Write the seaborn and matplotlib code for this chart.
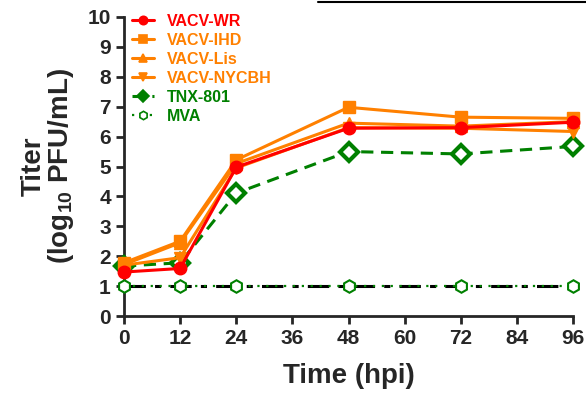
import matplotlib
matplotlib.use("Agg")
import matplotlib.pyplot as plt
from matplotlib.lines import Line2D
import seaborn as sns
import pandas as pd

hpi = [0, 12, 24, 48, 72, 96]
vacv_wr = [1.47, 1.59, 4.98, 6.28, 6.30, 6.48]
vacv_ihd = [1.78, 2.50, 5.22, 6.98, 6.65, 6.61]
vacv_lis = [1.72, 2.45, 5.10, 6.45, 6.35, 6.50]
vacv_nycbh = [1.70, 1.95, 4.95, 6.30, 6.28, 6.17]
tnx_801 = [1.67, 1.78, 4.11, 5.50, 5.42, 5.67]
mva = [1.0, 1.0, 1.0, 1.0, 1.0, 1.0]
lod = 1.0
x_ticks = [0, 12, 24, 36, 48, 60, 72, 84, 96]
y_ticks = list(range(0, 11))

sns.set_style("ticks")
plt.rcParams['font.family'] = ['Liberation Sans', 'DejaVu Sans']
plt.rcParams['font.weight'] = 'bold'
plt.rcParams['mathtext.fontset'] = 'custom'
plt.rcParams['mathtext.rm'] = 'Liberation Sans:bold'
plt.rcParams['mathtext.bf'] = 'Liberation Sans:bold'
plt.rcParams['mathtext.it'] = 'Liberation Sans:bold'

fig = plt.figure(figsize=(5.86, 4.03), dpi=100)
ax = fig.add_axes([124/586, 87/403, 449/586, 299/403])

red = "#FF0000"
orange = "#FF8000"
green = "#008000"

# limit of detection line
ax.plot([x_ticks[0], x_ticks[-1]], [lod, lod], color="black", lw=2.2,
        linestyle=(0, (7, 3, 2, 3)), zorder=2, clip_on=False)

series = [
    ("MVA", mva, green, "h", (0, (1, 3)), "white", 1.6, 3),
    ("TNX-801", tnx_801, green, "D", (0, (4, 2.5)), "white", 2.2, 4),
    ("VACV-NYCBH", vacv_nycbh, orange, "v", "-", orange, 2.2, 5),
    ("VACV-Lis", vacv_lis, orange, "^", "-", orange, 2.2, 6),
    ("VACV-IHD", vacv_ihd, orange, "s", "-", orange, 2.2, 7),
    ("VACV-WR", vacv_wr, red, "o", "-", red, 2.2, 8),
]

edge_w = {"MVA": 1.5, "TNX-801": 3.0}
handles = {}
for name, vals, col, mk, ls, fc, lw, z in series:
    df = pd.DataFrame({"hpi": hpi, "titer": vals})
    sns.lineplot(data=df, x="hpi", y="titer", ax=ax, color=col, lw=lw,
                 linestyle=ls, marker=mk, markersize=9 if mk != "D" else 9,
                 markerfacecolor=fc, markeredgecolor=col,
                 markeredgewidth=edge_w.get(name, 1.0),
                 zorder=z, clip_on=False)
    handles[name] = Line2D([], [], color=col, lw=lw, linestyle=ls, marker=mk,
                           markersize=6, markerfacecolor=(col if name == "TNX-801" else fc),
                           markeredgecolor=col, markeredgewidth=1.2)

order = ["VACV-WR", "VACV-IHD", "VACV-Lis", "VACV-NYCBH", "TNX-801", "MVA"]
leg = ax.legend([handles[n] for n in order], order, loc="upper left",
                bbox_to_anchor=(0.018, 1.01), frameon=False, fontsize=11.5,
                labelcolor="linecolor", handlelength=1.4, handletextpad=0.8,
                labelspacing=0.25, borderpad=0, borderaxespad=0)
for t in leg.get_texts():
    t.set_fontweight("bold")

ax.set_xlim(0, 96)
ax.set_ylim(0, 10)
ax.set_xticks(x_ticks)
ax.set_yticks(y_ticks)
ax.tick_params(axis="both", labelsize=15, width=2, length=6, direction="out")
for lab in ax.get_xticklabels() + ax.get_yticklabels():
    lab.set_fontweight("bold")
sns.despine(ax=ax)
for sp in ["left", "bottom"]:
    ax.spines[sp].set_linewidth(2)

ax.set_xlabel("Time (hpi)", fontsize=20, fontweight="bold", labelpad=11)
ax.set_ylabel("Titer\n(log$_{10}$ PFU/mL)", fontsize=20, fontweight="bold",
              labelpad=8, linespacing=1.0)

fig.add_artist(Line2D([318/586, 1.0], [1 - 1.5/403, 1 - 1.5/403],
                      transform=fig.transFigure, color="black", lw=1.5))

fig.savefig("out.png", dpi=100)
